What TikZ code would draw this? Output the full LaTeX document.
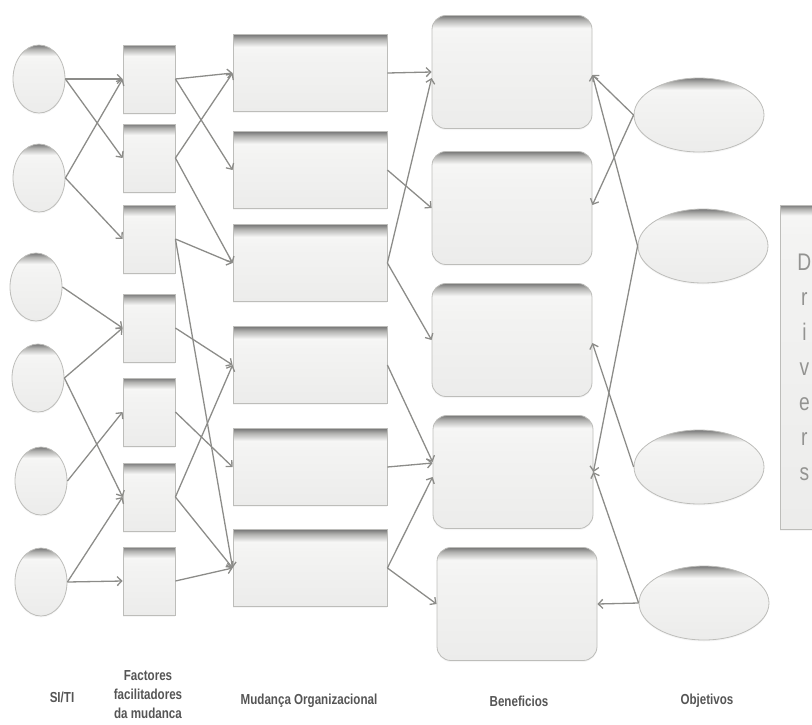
\documentclass[tikz,border=0pt]{standalone}
\usepackage{fontspec}
\newfontfamily\narrowsf[FakeStretch=0.8]{Liberation Sans}
\usepackage{xcolor}
\usepackage{tikz}
\usetikzlibrary{arrows.meta, shapes.geometric, shadows}

\definecolor{shdark}{HTML}{777777}
\definecolor{shgrey}{HTML}{B2B2B0}
\definecolor{shlight}{HTML}{F6F6F5}
\definecolor{shmid}{HTML}{F3F3F2}
\definecolor{shbot}{HTML}{ECECEB}
\definecolor{edgegrey}{HTML}{BDBDBA}
\definecolor{arrowgrey}{HTML}{8C8C89}
\definecolor{labelgrey}{HTML}{555555}
\definecolor{drivergrey}{HTML}{939391}
% inset look: dark band at the top, band height kept near 10px
\pgfdeclareverticalshading{insetS}{100bp}{color(0bp)=(shbot); color(25bp)=(shbot); color(60bp)=(shmid); color(67bp)=(shlight); color(72bp)=(shgrey); color(75bp)=(shdark); color(100bp)=(shdark)}
\pgfdeclareverticalshading{insetL}{100bp}{color(0bp)=(shbot); color(25bp)=(shbot); color(62bp)=(shmid); color(69.5bp)=(shlight); color(73bp)=(shgrey); color(75bp)=(shdark); color(100bp)=(shdark)}
\pgfdeclareverticalshading{insetXL}{100bp}{color(0bp)=(shbot); color(25bp)=(shbot); color(70bp)=(shmid); color(73.4bp)=(shlight); color(74.4bp)=(shgrey); color(75bp)=(shdark); color(100bp)=(shdark)}

\begin{document}
\begin{tikzpicture}[x=1pt, y=-1pt,
  shape3d/.style={draw=edgegrey, line width=0.8pt, shade, shading=insetS, inner sep=0pt,
    drop shadow={opacity=0.08, shadow xshift=0pt, shadow yshift=-1.5pt}},
  siti/.style={shape3d, ellipse, minimum width=52pt, minimum height=68pt},
  fac/.style={shape3d, rectangle, minimum width=52pt, minimum height=68pt},
  mud/.style={shape3d, rectangle, minimum width=154pt, minimum height=77pt},
  ben/.style={shape3d, shading=insetL, rectangle, rounded corners=14pt, minimum width=160pt, minimum height=113pt},
  obj/.style={shape3d, ellipse, minimum width=130pt, minimum height=74pt},
  link/.style={draw=arrowgrey, line width=1.3pt, -{Straight Barb[length=4.5pt, width=9pt]}},
  caption/.style={font=\narrowsf\bfseries\fontsize{14.5}{19}\selectfont, text=labelgrey, align=center}
]
  \useasboundingbox (0,0) rectangle (812,724);
  \clip (0,0) rectangle (812,724);

  % SI/TI
  \node[siti] (siti1) at (39, 79) {};
  \node[siti] (siti2) at (39, 178) {};
  \node[siti] (siti3) at (36, 287) {};
  \node[siti] (siti4) at (38, 378) {};
  \node[siti] (siti5) at (41, 481) {};
  \node[siti] (siti6) at (41, 582) {};

  % Factores facilitadores
  \node[fac] (fac1) at (149, 79) {};
  \node[fac] (fac2) at (149, 158) {};
  \node[fac] (fac3) at (149, 239) {};
  \node[fac] (fac4) at (149, 328) {};
  \node[fac] (fac5) at (149, 412) {};
  \node[fac] (fac6) at (149, 497) {};
  \node[fac] (fac7) at (149, 581) {};

  % Mudanca organizacional
  \node[mud] (mud1) at (310, 73) {};
  \node[mud] (mud2) at (310, 170) {};
  \node[mud] (mud3) at (310, 263) {};
  \node[mud] (mud4) at (310, 365) {};
  \node[mud] (mud5) at (310, 467) {};
  \node[mud] (mud6) at (310, 568) {};

  % Beneficios
  \node[ben] (ben1) at (512, 72) {};
  \node[ben] (ben2) at (512, 208) {};
  \node[ben] (ben3) at (512, 340) {};
  \node[ben] (ben4) at (513, 472) {};
  \node[ben] (ben5) at (517, 604) {};

  % Objetivos
  \node[obj] (obj1) at (699, 115) {};
  \node[obj] (obj2) at (703, 246) {};
  \node[obj] (obj3) at (699, 467) {};
  \node[obj] (obj4) at (704, 603) {};

  % Drivers
  \node[shape3d, shading=insetXL, rectangle, anchor=west, minimum height=324pt, text width=30pt,
        inner xsep=9pt, align=center, text=drivergrey,
        font=\narrowsf\fontsize{24}{35}\selectfont] (drivers) at (780, 367)
    {D\\r\\i\\v\\e\\r\\s};

  % SI/TI -> factores
  \draw[link] (siti1.east) -- (fac1.west);
  \draw[link] (siti1.east) -- (fac2.west);
  \draw[link] (siti2.east) -- (fac1.west);
  \draw[link] (siti2.east) -- (fac3.west);
  \draw[link] (siti3.east) -- (fac4.west);
  \draw[link] (siti4.east) -- (fac4.west);
  \draw[link] (siti4.east) -- (fac6.west);
  \draw[link] (siti5.east) -- (fac5.west);
  \draw[link] (siti6.east) -- (fac6.west);
  \draw[link] (siti6.east) -- (fac7.west);

  % factores -> mudanca
  \draw[link] (fac1.east) -- (mud1.west);
  \draw[link] (fac1.east) -- (mud2.west);
  \draw[link] (fac2.east) -- (mud1.west);
  \draw[link] (fac2.east) -- (mud3.west);
  \draw[link] (fac3.east) -- (mud3.west);
  \draw[link] (fac3.east) -- (mud6.west);
  \draw[link] (fac4.east) -- (mud4.west);
  \draw[link] (fac5.east) -- (mud5.west);
  \draw[link] (fac6.east) -- (mud4.west);
  \draw[link] (fac6.east) -- (mud6.west);
  \draw[link] (fac7.east) -- (mud6.west);

  % mudanca -> beneficios
  \draw[link] (mud1.east) -- (ben1.west);
  \draw[link] (mud2.east) -- (ben2.west);
  \draw[link] (mud3.east) -- ([yshift=-6pt]ben1.west);
  \draw[link] (mud3.east) -- (ben3.west);
  \draw[link] (mud4.east) -- ([yshift=10pt]ben4.west);
  \draw[link] (mud5.east) -- ([yshift=9pt]ben4.west);
  \draw[link] (mud6.east) -- ([yshift=-5pt]ben4.west);
  \draw[link] (mud6.east) -- (ben5.west);

  % objetivos -> beneficios
  \draw[link] (obj1.west) -- ([yshift=-3pt]ben1.east);
  \draw[link] (obj1.west) -- ([yshift=3pt]ben2.east);
  \draw[link] (obj2.west) -- ([yshift=-3pt]ben1.east);
  \draw[link] (obj2.west) -- (ben4.east);
  \draw[link] (obj3.west) -- ([yshift=-3pt]ben3.east);
  \draw[link] (obj4.west) -- (ben4.east);
  \draw[link] (obj4.west) -- (ben5.east);

  % Captions
  \node[caption] (capsiti) at (62, 697) {SI/TI};
  \node[caption] (capfac) at (148, 695) {Factores\\facilitadores\\da mudanca};
  \node[caption] (capmud) at (309, 701) {Mudança Organizacional};
  \node[caption] (capben) at (519, 701) {Beneficios};
  \node[caption] (capobj) at (707, 701) {Objetivos};

\end{tikzpicture}
\end{document}
